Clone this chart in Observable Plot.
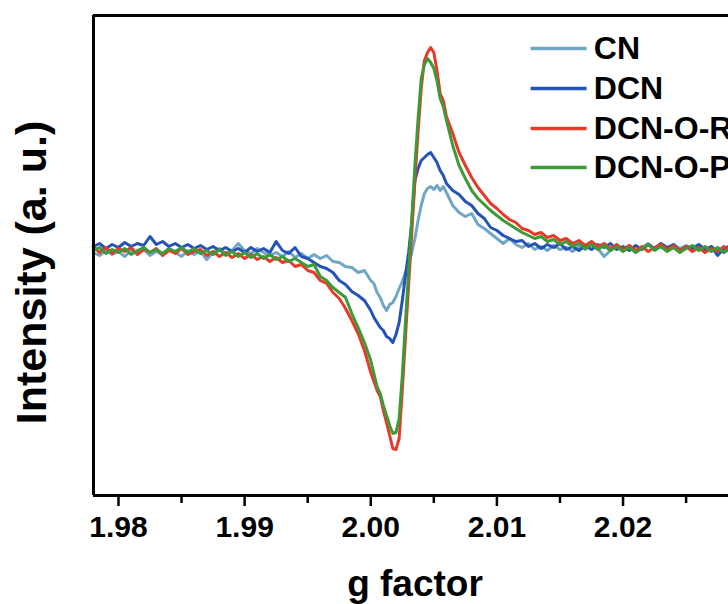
<!DOCTYPE html>
<html><head><meta charset="utf-8">
<script src="https://cdn.jsdelivr.net/npm/d3@7"></script>
<script src="https://cdn.jsdelivr.net/npm/@observablehq/plot@0.6"></script>
<style>body{margin:0;background:#fff;}</style>
</head><body><div id="chart"></div>
<script>
const gFactor = [
1.9780,1.9785,1.9790,1.9795,1.9800,1.9805,1.9810,1.9815,1.9820,1.9825,
1.9830,1.9835,1.9840,1.9845,1.9850,1.9855,1.9860,1.9865,1.9870,1.9875,
1.9880,1.9885,1.9890,1.9895,1.9900,1.9905,1.9910,1.9915,1.9920,1.9925,
1.9930,1.9935,1.9940,1.9945,1.9950,1.9955,1.9960,1.9965,1.9970,1.9975,
1.9980,1.9985,1.9990,1.9995,
2.00000,2.00025,2.00050,2.00075,2.00100,2.00125,2.00150,2.00175,2.00200,2.00225,
2.00250,2.00275,2.00300,2.00325,2.00350,2.00375,2.00400,2.00425,2.00450,2.00475,
2.00500,2.00525,2.00550,2.00575,2.00600,
2.0065,2.0070,2.0075,2.0080,2.0085,2.0090,2.0095,2.0100,2.0105,2.0110,
2.0115,2.0120,2.0125,2.0130,2.0135,2.0140,2.0145,2.0150,2.0155,2.0160,
2.0165,2.0170,2.0175,2.0180,2.0185,2.0190,2.0195,2.0200,2.0205,2.0210,
2.0215,2.0220,2.0225,2.0230,2.0235,2.0240,2.0245,2.0250,2.0255,2.0260,
2.0265,2.0270,2.0275,2.0280,2.0284
];
const cn = [
-4,-7,-2,-6,-3,-8,-2,-5,-1,-7,
-3,-6,-1,-4,-8,-2,-6,-3,-11,-4,
0,-5,-2,5,-2,-5,0,-4,-7,-4,
-8,-3,-9,-5,-10,-6,-10,-7,-13,-14,
-18,-19,-24,-22,
-32,-35,-44,-49,-57,-62,-56,-54,-48,-40,
-33,-24,-16,-4,10,28,43,55,60,62,
59,63,58,62,56,
43,36,32,35,24,20,15,10,5,10,
4,1,5,-1,2,-2,3,-1,1,-3,
2,-1,4,0,-8,-2,2,-1,3,-3,
1,5,-1,2,-2,4,0,3,-2,1,
-3,2,-1,-4,0
];
const dcn = [
2,5,0,4,1,6,2,5,3,12,
4,7,2,5,1,4,0,3,-1,2,
-2,1,-3,0,-4,1,-3,0,-4,7,
-2,-5,1,-8,-10,-14,-18,-20,-24,-32,
-36,-43,-47,-52,
-62,-69,-74,-79,-82,-88,-90,-94,-86,-74,
-52,-27,-4,26,68,80,88,91,94,96,
91,86,78,73,65,
58,54,47,43,35,30,21,18,13,10,
7,8,2,5,0,4,1,5,-1,2,
-2,3,-1,4,1,5,-1,2,-2,3,
-1,4,0,5,1,4,-2,2,0,4,
-1,2,-7,0,2
];
const dcnOR = [
2,-4,1,-5,0,-3,1,-6,-1,-4,
0,-7,-2,-5,0,-6,-3,-1,-7,-3,
-8,-4,-9,-5,-10,-6,-11,-8,-13,-9,
-14,-12,-18,-16,-22,-24,-32,-35,-44,-50,
-60,-72,-85,-102,
-124,-133,-142,-148,-162,-174,-187,-200,-201,-190,
-142,-89,-37,15,68,116,160,188,196,201,
196,178,155,148,132,
115,96,83,71,61,53,45,40,34,29,
26,20,18,14,16,11,13,8,10,5,
8,3,7,2,5,0,4,-1,3,-2,
2,-3,1,4,-1,3,-2,2,-3,1,
-4,0,-3,2,-1
];
const dcnOP = [
-2,1,-5,-1,-4,0,-6,-2,1,-4,
-1,-5,0,-3,1,-4,0,-5,-2,-6,
-1,-7,-3,-8,-4,-9,-5,-10,-6,-11,
-8,-13,-10,-14,-18,-16,-28,-32,-39,-44,
-49,-65,-79,-94,
-112,-125,-138,-145,-157,-167,-177,-185,-184,-170,
-127,-74,-22,30,83,130,170,184,190,186,
180,168,150,142,128,
103,83,70,58,50,44,38,33,28,24,
20,16,13,10,12,7,9,4,7,2,
5,0,4,-1,3,-2,2,-3,1,-4,
0,4,-2,2,-3,1,-4,0,3,-2,
2,-3,1,-4,-1
];
const seriesNames = ["CN", "DCN", "DCN-O-R", "DCN-O-P"];
const seriesColors = ["#6fa7c4", "#2353b6", "#e63b2b", "#3e9a38"];
const majorTicks = [1.98, 1.99, 2.00, 2.01, 2.02];
const minorTicks = [1.985, 1.995, 2.005, 2.015, 2.025];
const xDomain = [1.97802, 2.02836];
const yDomain = [-247, 233];
const legendY = [200, 160, 120, 81];
const legendX = [2.01267, 2.01711, 2.01768];

const seriesValues = [cn, dcn, dcnOR, dcnOP];
const rows = seriesNames.flatMap((name, k) =>
  gFactor.map((g, i) => ({g, v: seriesValues[k][i], name})));
const legendRows = seriesNames.map((name, k) => ({name, y: legendY[k]}));

const font = "'Liberation Sans', Arial, sans-serif";

const chart = Plot.plot({
  width: 728,
  height: 604,
  marginLeft: 93,
  marginRight: 0,
  marginTop: 15,
  marginBottom: 109,
  style: {fontFamily: font, fontWeight: "bold", background: "white", color: "black"},
  x: {domain: xDomain, axis: null},
  y: {domain: yDomain, axis: null},
  color: {type: "ordinal", domain: seriesNames, range: seriesColors},
  marks: [
    Plot.line(rows, {x: "g", y: "v", z: "name", stroke: "name", strokeWidth: 3, strokeLinejoin: "round"}),
    Plot.link(legendRows, {x1: () => legendX[0], x2: () => legendX[1], y1: "y", y2: "y", stroke: "name", strokeWidth: 3.5}),
    Plot.text(legendRows, {x: () => legendX[2], y: "y", text: "name", textAnchor: "start", lineAnchor: "middle", fontSize: 32, fontWeight: "bold", fill: "black"}),
    Plot.ruleX([xDomain[0]], {stroke: "black", strokeWidth: 3}),
    Plot.ruleY([yDomain[0], yDomain[1]], {stroke: "black", strokeWidth: 3}),
    Plot.axisX(majorTicks, {anchor: "bottom", tickSize: 11, tickPadding: 9, tickFormat: d3.format(".2f"), fontSize: 30, fontWeight: "bold", strokeWidth: 2.5, label: null, color: "black"}),
    Plot.axisX(minorTicks, {anchor: "bottom", tickSize: 8, text: null, strokeWidth: 2.5, label: null, color: "black"}),
    Plot.text(["g factor"], {frameAnchor: "bottom", dx: 4, dy: 100, textAnchor: "middle", lineAnchor: "bottom", fontSize: 37, fontWeight: "bold", fill: "black"}),
    Plot.text(["Intensity (a. u.)"], {frameAnchor: "left", dx: -48, dy: 17, rotate: -90, textAnchor: "middle", lineAnchor: "bottom", fontSize: 43, fontWeight: "bold", fill: "black"})
  ]
});
document.getElementById("chart").appendChild(chart);
</script>
</body></html>
